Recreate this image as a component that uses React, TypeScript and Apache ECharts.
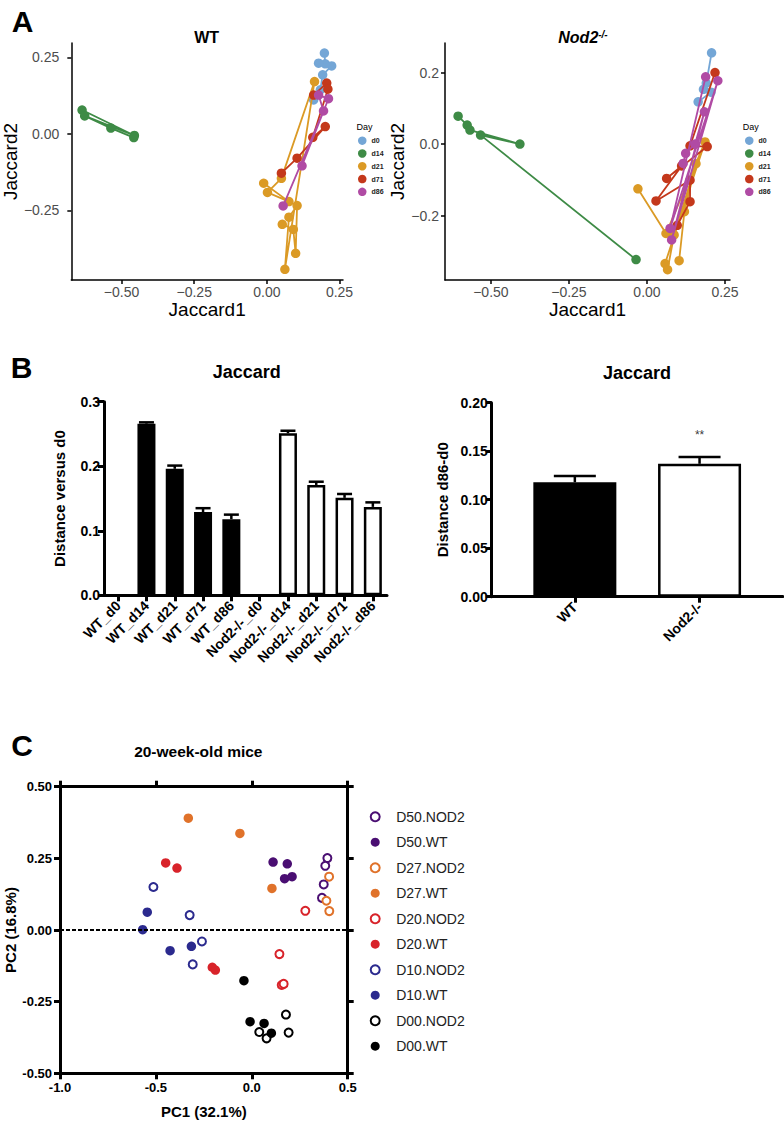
import React, { useEffect, useRef } from 'react';
import * as echarts from 'echarts';

const FONT = '"Liberation Sans", Arial, Helvetica, sans-serif';

// ---------- Panel A : Jaccard PCoA trajectories ----------
const dayNames = ['d0', 'd14', 'd21', 'd71', 'd86'];
const dayColors = ['#74A6D6', '#3E8B46', '#DB9A25', '#C4381B', '#B04BA4'];

const wtD0 = [[0.198, 0.264], [0.201, 0.229], [0.178, 0.231], [0.223, 0.222], [0.192, 0.193], [0.184, 0.144], [0.161, 0.111]];
const wtD14 = [[-0.636, 0.078], [-0.456, -0.005], [-0.627, 0.059], [-0.537, 0.019], [-0.458, -0.012]];
const wtD21 = [[-0.011, -0.161], [0.076, -0.221], [0.002, -0.191], [0.05, -0.145], [0.164, 0.171], [0.062, -0.442], [0.076, -0.272], [0.104, -0.234], [0.099, -0.39], [0.091, -0.312], [0.053, -0.295]];
const wtD71 = [[0.161, 0.127], [0.206, 0.166], [0.21, 0.146], [0.158, -0.011], [0.201, 0.024], [0.104, -0.079], [0.05, -0.128]];
const wtD86 = [[0.121, -0.104], [0.212, 0.115], [0.178, 0.127], [0.195, 0.075], [0.056, -0.235]];

const nodD0 = [[0.207, 0.255], [0.19, 0.17], [0.181, 0.153], [0.205, 0.145], [0.164, 0.118]];
const nodD14 = [[-0.605, 0.078], [-0.576, 0.053], [-0.567, 0.039], [-0.407, 0.0], [-0.533, 0.025], [-0.035, -0.323]];
const nodD21 = [[-0.029, -0.125], [0.061, -0.25], [0.186, 0.006], [0.058, -0.334], [0.066, -0.351], [0.087, -0.254], [0.157, -0.055], [0.12, -0.189], [0.103, -0.326]];
const nodD71 = [[0.218, 0.2], [0.138, -0.005], [0.193, -0.007], [0.063, -0.096], [0.111, -0.061], [0.029, -0.159], [0.138, -0.101], [0.138, -0.161], [0.097, -0.227]];
const nodD86 = [[0.188, 0.188], [0.074, -0.236], [0.227, 0.177], [0.079, -0.268], [0.184, 0.09], [0.154, 0.0], [0.124, -0.026], [0.116, -0.054]];

const wtDays = [wtD0, wtD14, wtD21, wtD71, wtD86];
const nodDays = [nodD0, nodD14, nodD21, nodD71, nodD86];

const aXTicks = [-0.5, -0.25, 0, 0.25];
const wtYTicks = [-0.25, 0, 0.25];
const nodYTicks = [-0.2, 0, 0.2];

// ---------- Panel B : distances ----------
const jaccardCats = ['WT_d0', 'WT_d14', 'WT_d21', 'WT_d71', 'WT_d86', 'Nod2-/-_d0', 'Nod2-/-_d14', 'Nod2-/-_d21', 'Nod2-/-_d71', 'Nod2-/-_d86'];
const jaccardMeans = [0, 0.266, 0.196, 0.129, 0.118, 0, 0.251, 0.171, 0.151, 0.137];
const jaccardErrs = [0, 0.002, 0.005, 0.006, 0.007, 0, 0.004, 0.005, 0.006, 0.007];

const d86Cats = ['WT', 'Nod2-/-'];
const d86Means = [0.118, 0.137];
const d86Errs = [0.0064, 0.007];
const d86Sig = ['', '**'];
const d86SigY = [0, 0.167];

// ---------- Panel C : PCA ----------
const pcaGroups = ['D50.NOD2', 'D50.WT', 'D27.NOD2', 'D27.WT', 'D20.NOD2', 'D20.WT', 'D10.NOD2', 'D10.WT', 'D00.NOD2', 'D00.WT'];
const pcaColors = ['#4A0E72', '#4A0E72', '#E0722A', '#E0722A', '#D8232A', '#D8232A', '#2B2A8E', '#2B2A8E', '#000000', '#000000'];
const pcaD50Nod = [[0.394, 0.251], [0.383, 0.224], [0.375, 0.159], [0.366, 0.112]];
const pcaD50Wt = [[0.111, 0.237], [0.185, 0.231], [0.171, 0.179], [0.21, 0.186]];
const pcaD27Nod = [[0.403, 0.186], [0.389, 0.102], [0.404, 0.066]];
const pcaD27Wt = [[-0.331, 0.39], [-0.062, 0.337], [0.105, 0.145]];
const pcaD20Nod = [[0.279, 0.067], [0.144, -0.084], [0.156, -0.192], [0.166, -0.188]];
const pcaD20Wt = [[-0.449, 0.234], [-0.39, 0.216], [-0.206, -0.13], [-0.19, -0.14]];
const pcaD10Nod = [[-0.513, 0.15], [-0.324, 0.052], [-0.26, -0.04], [-0.308, -0.12]];
const pcaD10Wt = [[-0.545, 0.062], [-0.569, 0.001], [-0.426, -0.072], [-0.315, -0.057]];
const pcaD00Nod = [[0.178, -0.295], [0.039, -0.356], [0.077, -0.378], [0.192, -0.358]];
const pcaD00Wt = [[-0.041, -0.177], [-0.009, -0.32], [0.064, -0.326], [0.102, -0.36]];
const pcaPoints = [pcaD50Nod, pcaD50Wt, pcaD27Nod, pcaD27Wt, pcaD20Nod, pcaD20Wt, pcaD10Nod, pcaD10Wt, pcaD00Nod, pcaD00Wt];

const minus = (s: string) => s.replace('-', '\u2212');

function errRender(capW: number) {
  return (params: any, api: any) => {
    const x = api.value(0);
    const y = api.value(1);
    const e = api.value(2);
    const p0 = api.coord([x, y]);
    const p1 = api.coord([x, y + e]);
    const st = { stroke: '#000', lineWidth: 2.5 };
    return {
      type: 'group',
      children: [
        { type: 'line', shape: { x1: p0[0], y1: p0[1], x2: p1[0], y2: p1[1] }, style: st },
        { type: 'line', shape: { x1: p1[0] - capW / 2, y1: p1[1], x2: p1[0] + capW / 2, y2: p1[1] }, style: st },
      ],
    };
  };
}

function buildOption() {
  const aAxisLine = { show: true, onZero: false, lineStyle: { color: '#000', width: 1.5 } };
  const aTick = { show: true, length: 4, lineStyle: { color: '#000', width: 1.5 } };
  const aLabel = { color: '#4D4D4D', fontSize: 14, fontFamily: FONT };
  const aName = { color: '#000', fontSize: 19, fontFamily: FONT };

  const bLine = { show: true, onZero: false, lineStyle: { color: '#000', width: 3 } };
  const bTick = { show: true, length: 6, lineStyle: { color: '#000', width: 3 } };
  const bLabel = { color: '#000', fontSize: 14, fontWeight: 'bold', fontFamily: FONT };
  const bName = { color: '#000', fontSize: 15, fontWeight: 'bold', fontFamily: FONT };

  const cLine = { show: true, onZero: false, lineStyle: { color: '#000', width: 3 } };
  const cTick = { show: true, length: 6, lineStyle: { color: '#000', width: 3 } };
  const cLabel = { color: '#000', fontSize: 13, fontWeight: 'bold', fontFamily: FONT };

  const d86Slots: string[] = Array.from({ length: 8 }, (_, i) => ' '.repeat(i + 1));
  const slotPos = [2, 5];
  d86Cats.forEach((c, k) => { d86Slots[slotPos[k]] = c; });
  const d86BarData: any[] = d86Slots.map(() => '-');
  d86Means.forEach((m, k) => {
    d86BarData[slotPos[k]] = {
      value: m,
      itemStyle: { color: d86Cats[k] === 'WT' ? '#000' : '#fff', borderColor: '#000', borderWidth: 2.5 },
    };
  });
  const slotShown = (i: number) => slotPos.indexOf(i) >= 0;

  const series: any[] = [];
  dayNames.forEach((n, i) => {
    series.push({
      type: 'line', name: n, xAxisIndex: 0, yAxisIndex: 0, data: wtDays[i], symbol: 'circle', symbolSize: 9.5,
      lineStyle: { color: dayColors[i], width: 1.8 }, itemStyle: { color: dayColors[i], opacity: 1 }, z: 2 + i, silent: true,
    });
  });
  dayNames.forEach((n, i) => {
    series.push({
      type: 'line', name: n, xAxisIndex: 1, yAxisIndex: 1, data: nodDays[i], symbol: 'circle', symbolSize: 9.5,
      lineStyle: { color: dayColors[i], width: 1.8 }, itemStyle: { color: dayColors[i], opacity: 1 }, z: 2 + i, silent: true,
    });
  });
  series.push({
    type: 'bar', xAxisIndex: 2, yAxisIndex: 2, barWidth: 18, silent: true,
    data: jaccardMeans.map((m, i) => ({
      value: m,
      itemStyle: { color: jaccardCats[i].startsWith('WT') ? '#000' : '#fff', borderColor: '#000', borderWidth: m > 0 ? 2.5 : 0 },
    })),
  });
  series.push({
    type: 'custom', xAxisIndex: 2, yAxisIndex: 2, z: 5, silent: true,
    renderItem: errRender(15),
    data: jaccardMeans.map((m, i) => [i, m, jaccardErrs[i]]).filter((d) => d[2] > 0),
  });
  series.push({ type: 'bar', xAxisIndex: 3, yAxisIndex: 3, barWidth: 83, silent: true, data: d86BarData });
  series.push({
    type: 'custom', xAxisIndex: 3, yAxisIndex: 3, z: 5, silent: true,
    renderItem: errRender(42),
    data: d86Means.map((m, k) => [slotPos[k], m, d86Errs[k]]),
  });
  series.push({
    type: 'scatter', xAxisIndex: 3, yAxisIndex: 3, symbolSize: 1, silent: true,
    itemStyle: { color: 'rgba(0,0,0,0)' },
    data: d86Sig.map((s, k) => ({ value: [slotPos[k], d86SigY[k]], name: s })).filter((d) => d.name),
    label: { show: true, position: 'inside', formatter: (p: any) => p.name, color: '#000', fontSize: 12, fontFamily: FONT },
  });
  pcaGroups.forEach((g, i) => {
    const open = g.endsWith('NOD2');
    const s: any = {
      type: 'scatter', name: g, xAxisIndex: 4, yAxisIndex: 4, data: pcaPoints[i], symbol: 'circle',
      symbolSize: open ? 8 : 9.5, silent: true,
      itemStyle: open
        ? { color: '#fff', borderColor: pcaColors[i], borderWidth: 2, opacity: 1 }
        : { color: pcaColors[i], opacity: 1 },
      z: 3,
    };
    if (i === 0) {
      s.markLine = {
        silent: true, symbol: 'none', label: { show: false }, animation: false,
        lineStyle: { type: [4, 2], color: '#000', width: 2 },
        data: [{ yAxis: 0 }],
      };
    }
    series.push(s);
  });

  const txt = (x: number, y: number, text: string, font: string, align = 'center') => ({
    type: 'text', x, y, silent: true,
    style: { text, font, fill: '#000', align, verticalAlign: 'middle', textAlign: align, textVerticalAlign: 'middle' },
  });

  return {
    animation: false,
    backgroundColor: '#fff',
    textStyle: { fontFamily: FONT },
    grid: [
      { left: 68, top: 43, width: 275, height: 237 },
      { left: 445, top: 43, width: 285, height: 237 },
      { left: 104, top: 401.7, width: 283, height: 193.6 },
      { left: 491.7, top: 402.7, width: 291, height: 194 },
      { left: 60, top: 786.7, width: 287.7, height: 286.6 },
    ],
    xAxis: [
      {
        type: 'value', gridIndex: 0, min: -0.673, max: 0.262, splitLine: { show: false },
        axisLine: aAxisLine, axisTick: { ...aTick, customValues: aXTicks },
        axisLabel: { ...aLabel, margin: 5, customValues: aXTicks, formatter: (v: number) => minus(v.toFixed(2)) },
        name: 'Jaccard1', nameLocation: 'middle', nameGap: 16, nameTextStyle: aName,
      },
      {
        type: 'value', gridIndex: 1, min: -0.647, max: 0.266, splitLine: { show: false },
        axisLine: aAxisLine, axisTick: { ...aTick, customValues: aXTicks },
        axisLabel: { ...aLabel, margin: 5, customValues: aXTicks, formatter: (v: number) => minus(v.toFixed(2)) },
        name: 'Jaccard1', nameLocation: 'middle', nameGap: 16, nameTextStyle: aName,
      },
      {
        type: 'category', gridIndex: 2, data: jaccardCats, axisLine: bLine,
        axisTick: { ...bTick, alignWithLabel: true }, axisLabel: { ...bLabel, rotate: 45, interval: 0, margin: 8 },
      },
      {
        type: 'category', gridIndex: 3, data: d86Slots, boundaryGap: false, axisLine: bLine,
        axisTick: { ...bTick, interval: (i: number) => slotShown(i) },
        axisLabel: { ...bLabel, rotate: 45, interval: (i: number) => slotShown(i), margin: 8 },
      },
      {
        type: 'value', gridIndex: 4, min: -1, max: 0.5, interval: 0.5, splitLine: { show: false },
        axisLine: cLine, axisTick: cTick,
        axisLabel: { ...cLabel, margin: 8, formatter: (v: number) => v.toFixed(1) },
        name: 'PC1 (32.1%)', nameLocation: 'middle', nameGap: 31,
        nameTextStyle: { color: '#000', fontSize: 15, fontWeight: 'bold', fontFamily: FONT },
      },
      {
        type: 'value', gridIndex: 4, position: 'top', min: -1, max: 0.5, interval: 0.5, splitLine: { show: false },
        axisLine: cLine, axisTick: cTick, axisLabel: { show: false },
      },
    ],
    yAxis: [
      {
        type: 'value', gridIndex: 0, min: -0.477, max: 0.297, splitLine: { show: false },
        axisLine: aAxisLine, axisTick: { ...aTick, customValues: wtYTicks },
        axisLabel: { ...aLabel, margin: 12, customValues: wtYTicks, formatter: (v: number) => minus(v.toFixed(2)) },
        name: 'Jaccard2', nameLocation: 'middle', nameGap: 45, nameTextStyle: aName,
      },
      {
        type: 'value', gridIndex: 1, min: -0.38, max: 0.2825, splitLine: { show: false },
        axisLine: aAxisLine, axisTick: { ...aTick, customValues: nodYTicks },
        axisLabel: { ...aLabel, margin: 6, customValues: nodYTicks, formatter: (v: number) => minus(v.toFixed(1)) },
        name: 'Jaccard2', nameLocation: 'middle', nameGap: 32, nameTextStyle: aName,
      },
      {
        type: 'value', gridIndex: 2, min: 0, max: 0.3, interval: 0.1, splitLine: { show: false },
        axisLine: bLine, axisTick: bTick,
        axisLabel: { ...bLabel, margin: 4, formatter: (v: number) => v.toFixed(1) },
        name: 'Distance versus d0', nameLocation: 'middle', nameGap: 37, nameTextStyle: bName,
      },
      {
        type: 'value', gridIndex: 3, min: 0, max: 0.2, interval: 0.05, splitLine: { show: false },
        axisLine: bLine, axisTick: bTick,
        axisLabel: { ...bLabel, margin: 4, formatter: (v: number) => v.toFixed(2) },
        name: 'Distance d86-d0', nameLocation: 'middle', nameGap: 42, nameTextStyle: bName,
      },
      {
        type: 'value', gridIndex: 4, min: -0.5, max: 0.5, interval: 0.25, splitLine: { show: false },
        axisLine: cLine, axisTick: cTick,
        axisLabel: { ...cLabel, margin: 8, formatter: (v: number) => v.toFixed(2) },
        name: 'PC2 (16.8%)', nameLocation: 'middle', nameGap: 42,
        nameTextStyle: { color: '#000', fontSize: 15, fontWeight: 'bold', fontFamily: FONT },
      },
      {
        type: 'value', gridIndex: 4, position: 'right', min: -0.5, max: 0.5, interval: 0.25, splitLine: { show: false },
        axisLine: cLine, axisTick: cTick, axisLabel: { show: false },
      },
    ],
    legend: [
      {
        data: dayNames, orient: 'vertical', left: 358, top: 136.4, itemWidth: 8.5, itemHeight: 8.5, itemGap: 4.3,
        icon: 'circle', selectedMode: false, padding: 0,
        textStyle: { fontSize: 7, fontWeight: 'bold', color: '#222', fontFamily: FONT },
      },
      {
        data: dayNames, orient: 'vertical', left: 745, top: 136.4, itemWidth: 8.5, itemHeight: 8.5, itemGap: 4.3,
        icon: 'circle', selectedMode: false, padding: 0,
        textStyle: { fontSize: 7, fontWeight: 'bold', color: '#222', fontFamily: FONT },
      },
      {
        data: pcaGroups, orient: 'vertical', left: 369.7, top: 809.7, itemWidth: 32, itemHeight: 9, itemGap: 11.5,
        selectedMode: false, padding: 0,
        textStyle: { fontSize: 14, color: '#222', fontFamily: FONT },
      },
    ],
    graphic: [
      txt(22.7, 21, 'A', `bold 30px ${FONT}`),
      txt(21.7, 367, 'B', `bold 30px ${FONT}`),
      txt(22, 745, 'C', `bold 30px ${FONT}`),
      txt(206.7, 37.3, 'WT', `bold 16px ${FONT}`),
      {
        type: 'text', x: 583, y: 37.3, silent: true,
        style: {
          text: '{a|Nod2}{b|-/-}', align: 'center', verticalAlign: 'middle', textAlign: 'center', textVerticalAlign: 'middle',
          rich: {
            a: { fontFamily: FONT, fontSize: 16, fontWeight: 'bold', fontStyle: 'italic', fill: '#000', color: '#000' },
            b: { fontFamily: FONT, fontSize: 10, fontWeight: 'bold', fontStyle: 'italic', fill: '#000', color: '#000', verticalAlign: 'top' },
          },
        },
      },
      txt(356.5, 126.5, 'Day', `9px ${FONT}`, 'left'),
      txt(742.7, 126.5, 'Day', `9px ${FONT}`, 'left'),
      txt(246.7, 372, 'Jaccard', `bold 18px ${FONT}`),
      txt(637, 373, 'Jaccard', `bold 18px ${FONT}`),
      txt(198.3, 751, '20-week-old mice', `bold 15.5px ${FONT}`),
    ],
    series,
  };
}

export default function App() {
  const ref = useRef<HTMLDivElement>(null);
  useEffect(() => {
    document.body.style.margin = '0';
    if (!ref.current) return;
    const chart = echarts.init(ref.current, undefined, { renderer: 'svg' });
    chart.setOption(buildOption() as any);
    return () => chart.dispose();
  }, []);
  return <div ref={ref} style={{ width: 784, height: 1121, background: '#fff' }} />;
}
